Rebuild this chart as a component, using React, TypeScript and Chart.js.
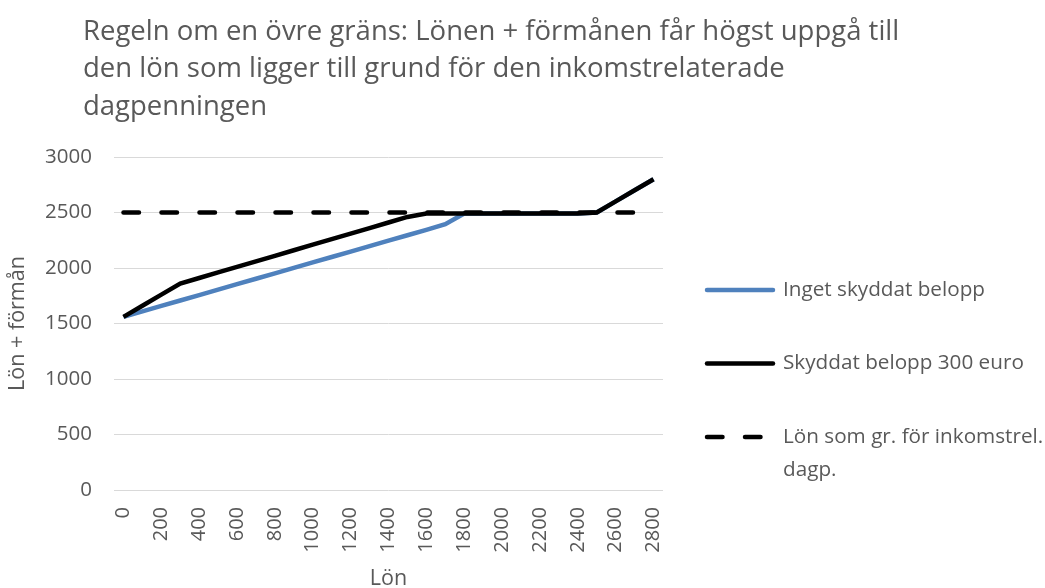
import React, { useEffect, useRef } from "react";
import { Chart, registerables } from "chart.js";

Chart.register(...registerables);

const titleLines = [
  "Regeln om en övre gräns: Lönen + förmånen får högst uppgå till",
  "den lön som ligger till grund för den inkomstrelaterade",
  "dagpenningen",
];

const categories = [
  0, 100, 200, 300, 400, 500, 600, 700, 800, 900, 1000, 1100, 1200, 1300, 1400,
  1500, 1600, 1700, 1800, 1900, 2000, 2100, 2200, 2300, 2400, 2500, 2600, 2700, 2800,
];

const ingetSkyddat = [
  1560, 1609, 1658, 1707, 1756, 1805, 1854, 1903, 1952, 2001, 2050, 2099, 2148, 2197, 2246,
  2295, 2344, 2395, 2490, 2490, 2490, 2490, 2490, 2490, 2490, 2500, 2600, 2700, 2800,
];

const skyddat300 = [
  1560, 1660, 1760, 1860, 1910, 1960, 2010, 2060, 2110, 2160, 2210, 2260, 2310, 2360, 2410,
  2460, 2490, 2490, 2490, 2490, 2490, 2490, 2490, 2490, 2490, 2500, 2600, 2700, 2800,
];

const grans = [
  2500, 2500, 2500, 2500, 2500, 2500, 2500, 2500, 2500, 2500, 2500, 2500, 2500, 2500, 2500,
  2500, 2500, 2500, 2500, 2500, 2500, 2500, 2500, 2500, 2500, 2500, 2500, 2500, 2500,
];

const seriesLabels = [
  "Inget skyddat belopp",
  "Skyddat belopp 300 euro",
  "Lön som gr. för inkomstrel.\ndagp.",
];

const FONT = "'Open Sans', sans-serif";
const TEXT = "#595959";

const overlayPlugin = {
  id: "overlay",
  afterDraw(chart: any) {
    const ctx = chart.ctx as CanvasRenderingContext2D;
    ctx.save();
    ctx.fillStyle = TEXT;
    ctx.textBaseline = "middle";
    ctx.textAlign = "left";
    ctx.font = `27.5px ${FONT}`;
    titleLines.forEach((t, i) => ctx.fillText(t, 83, 32 + i * 37.5));

    ctx.font = `20.7px ${FONT}`;
    chart.data.datasets.forEach((ds: any, i: number) => {
      const y = 290 + i * 73.5;
      const dashed = ds.borderDash && ds.borderDash.length;
      ctx.save();
      ctx.strokeStyle = ds.borderColor;
      ctx.lineWidth = 4.5;
      ctx.lineCap = "round";
      ctx.setLineDash(dashed ? [15.5, 22.5] : []);
      ctx.beginPath();
      ctx.moveTo(707, y);
      ctx.lineTo(dashed ? 761 : 773, y);
      ctx.stroke();
      ctx.restore();
      const lines = String(ds.label).split("\n");
      lines.forEach((l, j) => ctx.fillText(l, 783, y + j * 33));
    });
    ctx.restore();
  },
};

export default function App() {
  const ref = useRef<HTMLCanvasElement | null>(null);

  useEffect(() => {
    if (!ref.current) return;
    const chart = new Chart(ref.current, {
      type: "line",
      data: {
        labels: categories.map(String),
        datasets: [
          {
            label: seriesLabels[0],
            data: ingetSkyddat,
            borderColor: "#4F81BD",
            borderWidth: 4.5,
            pointRadius: 0,
            tension: 0,
            fill: false,
            order: 3,
          },
          {
            label: seriesLabels[1],
            data: skyddat300,
            borderColor: "#000000",
            borderWidth: 4.5,
            pointRadius: 0,
            tension: 0,
            fill: false,
            order: 2,
          },
          {
            label: seriesLabels[2],
            data: grans,
            borderColor: "#000000",
            borderWidth: 4.5,
            borderDash: [15.5, 22.5],
            borderCapStyle: "round",
            pointRadius: 0,
            tension: 0,
            fill: false,
            order: 1,
          },
        ],
      },
      options: {
        responsive: false,
        animation: false,
        devicePixelRatio: 1,
        layout: { padding: { left: 0, right: 382, top: 157, bottom: 0 } },
        plugins: {
          legend: { display: false },
          title: { display: false },
          tooltip: { enabled: false },
        },
        scales: {
          x: {
            type: "category",
            offset: true,
            grid: { display: false },
            border: { display: false },
            ticks: {
              autoSkip: false,
              maxRotation: 90,
              minRotation: 90,
              padding: 9,
              color: TEXT,
              font: { family: FONT, size: 20 },
              callback: (_v: any, i: number) => (i % 2 === 0 ? String(categories[i]) : ""),
            },
            title: {
              display: true,
              text: "Lön",
              color: TEXT,
              font: { family: FONT, size: 21.5 },
              padding: { top: 0, bottom: -4 },
            },
            afterFit: (s: any) => {
              s.height = 98;
            },
          },
          y: {
            min: 0,
            max: 3000,
            grid: { color: "#D9D9D9", lineWidth: 1, drawTicks: false },
            border: { display: false },
            ticks: {
              stepSize: 500,
              padding: 22,
              color: TEXT,
              font: { family: FONT, size: 20.5 },
              callback: (v: any) => String(v),
            },
            title: {
              display: true,
              text: "Lön + förmån",
              color: TEXT,
              font: { family: FONT, size: 21.5 },
              padding: { top: 5, bottom: 0 },
            },
            afterFit: (s: any) => {
              s.width = 114;
            },
          },
        },
      },
      plugins: [overlayPlugin],
    });
    return () => chart.destroy();
  }, []);

  return (
    <div style={{ position: "absolute", left: 0, top: 0, width: 1045, height: 588, background: "#fff" }}>
      <canvas ref={ref} width={1045} height={588} style={{ display: "block" }} />
    </div>
  );
}
